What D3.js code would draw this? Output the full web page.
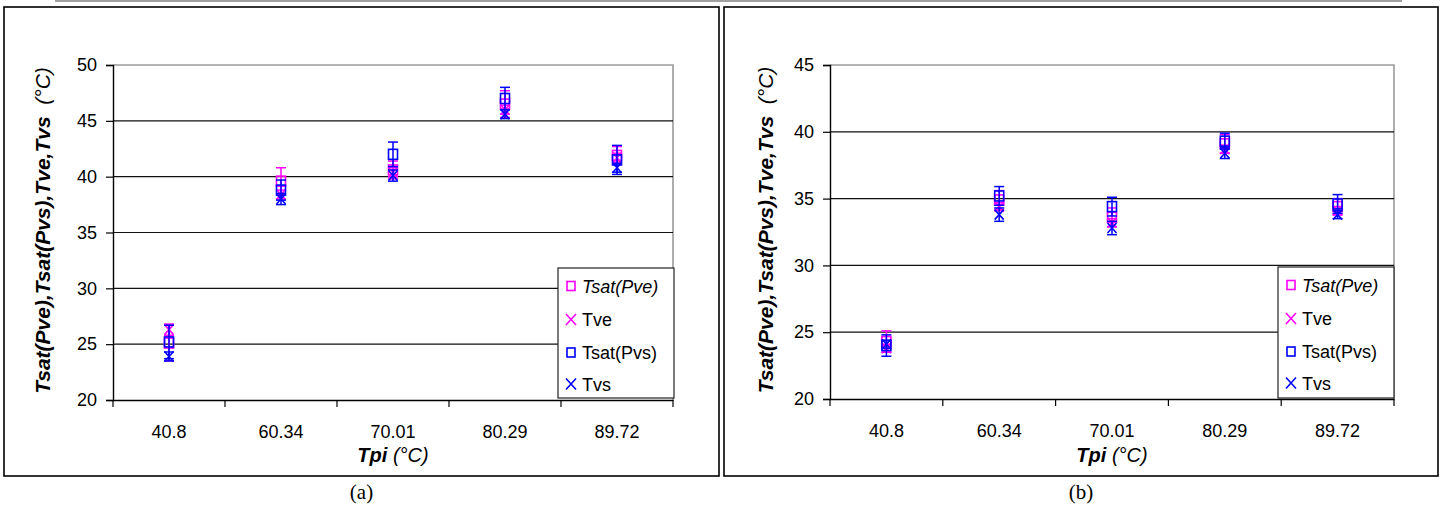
<!DOCTYPE html>
<html>
<head>
<meta charset="utf-8">
<script src="https://cdn.jsdelivr.net/npm/d3@7"></script>
<style>
  html, body { margin: 0; padding: 0; background: #fff; }
  svg { display: block; }
  text { fill: #000; }
</style>
</head>
<body>
<svg id="chart" width="1442" height="508"></svg>
<script>
// ---------------- DATA ----------------
const categories = ["40.8", "60.34", "70.01", "80.29", "89.72"];
const seriesNames = ["Tsat(Pve)", "Tve", "Tsat(Pvs)", "Tvs"];

const yTicksA = [20, 25, 30, 35, 40, 45, 50];
const yTicksB = [20, 25, 30, 35, 40, 45];

// Panel (a)
const a_TsatPve = [25.1, 39.6, 40.6, 46.5, 41.9];
const a_Tve     = [26.3, 38.4, 40.4, 46.0, 41.7];
const a_TsatPvs = [25.2, 38.8, 42.0, 47.0, 41.5];
const a_Tvs     = [23.9, 38.0, 40.1, 45.6, 40.8];
const a_TsatPve_err = [1.6, 1.2, 0.8, 1.2, 0.8];
const a_Tve_err     = [0.5, 0.4, 0.4, 0.4, 0.4];
const a_TsatPvs_err = [1.5, 0.9, 1.1, 1.0, 1.3];
const a_Tvs_err     = [0.4, 0.5, 0.5, 0.4, 0.4];

// Panel (b)
const b_TsatPve = [24.3, 34.9, 33.6, 39.1, 34.4];
const b_Tve     = [23.8, 34.4, 33.2, 38.7, 34.1];
const b_TsatPvs = [24.0, 35.2, 34.4, 39.3, 34.6];
const b_Tvs     = [24.1, 33.8, 32.8, 38.4, 33.8];
const b_TsatPve_err = [0.8, 0.7, 0.7, 0.7, 0.6];
const b_Tve_err     = [0.3, 0.3, 0.3, 0.3, 0.3];
const b_TsatPvs_err = [0.8, 0.7, 0.7, 0.6, 0.7];
const b_Tvs_err     = [0.3, 0.5, 0.5, 0.4, 0.3];

// ---------------- STYLE / LAYOUT ----------------
const SANS = "'Liberation Sans', Arial, sans-serif";
const SERIF = "'Liberation Serif', 'Times New Roman', serif";
const MAGENTA = "#ff00ff", BLUE = "#0000ff";
const seriesStyle = [
  { name: seriesNames[0], color: MAGENTA, shape: "square", italic: true },
  { name: seriesNames[1], color: MAGENTA, shape: "x", italic: false },
  { name: seriesNames[2], color: BLUE, shape: "square", italic: false },
  { name: seriesNames[3], color: BLUE, shape: "x", italic: false }
];

const panels = [
  {
    frame: { x: 4, y: 7, w: 715, h: 469 },
    plot: { x0: 113, x1: 673, y0: 65, y1: 400 },
    yDomain: [20, 50], yTicks: yTicksA,
    ytitleX: 43, caption: "(a)",
    legend: { x: 558, y: 268, w: 116, h: 130 },
    values: [a_TsatPve, a_Tve, a_TsatPvs, a_Tvs],
    errors: [a_TsatPve_err, a_Tve_err, a_TsatPvs_err, a_Tvs_err]
  },
  {
    frame: { x: 724, y: 7, w: 714, h: 469 },
    plot: { x0: 830, x1: 1394, y0: 65, y1: 399 },
    yDomain: [20, 45], yTicks: yTicksB,
    ytitleX: 766, caption: "(b)",
    legend: { x: 1278, y: 267, w: 116, h: 131 },
    values: [b_TsatPve, b_Tve, b_TsatPvs, b_Tvs],
    errors: [b_TsatPve_err, b_Tve_err, b_TsatPvs_err, b_Tvs_err]
  }
];

const svg = d3.select("#chart");

// top grey rule
svg.append("line").attr("x1", 55).attr("x2", 1402).attr("y1", 1).attr("y2", 1)
  .attr("stroke", "#a0a0a0").attr("stroke-width", 2);

function drawMarker(g, shape, color, cx, cy, w, h) {
  if (shape === "square") {
    g.append("rect").attr("x", cx - w / 2).attr("y", cy - h / 2)
      .attr("width", w).attr("height", h)
      .attr("fill", "none").attr("stroke", color).attr("stroke-width", 1.6);
  } else {
    const hw = w / 2, hh = h / 2;
    g.append("path")
      .attr("d", `M${cx - hw},${cy - hh}L${cx + hw},${cy + hh}M${cx - hw},${cy + hh}L${cx + hw},${cy - hh}`)
      .attr("fill", "none").attr("stroke", color).attr("stroke-width", 1.6);
  }
}

panels.forEach(p => {
  const g = svg.append("g");
  const f = p.frame;
  // panel frame
  g.append("rect").attr("x", f.x).attr("y", f.y).attr("width", f.w).attr("height", f.h)
    .attr("fill", "none").attr("stroke", "#000").attr("stroke-width", 1.6);

  const x = d3.scaleBand().domain(categories).range([p.plot.x0, p.plot.x1]).padding(0);
  const y = d3.scaleLinear().domain(p.yDomain).range([p.plot.y1, p.plot.y0]);

  // plot area border (top + right, grey)
  g.append("path")
    .attr("d", `M${p.plot.x0},${y(p.yDomain[1])}L${p.plot.x1},${y(p.yDomain[1])}L${p.plot.x1},${y(p.yDomain[0])}`)
    .attr("fill", "none").attr("stroke", "#9a9a9a").attr("stroke-width", 1.6);

  // gridlines
  g.append("g").selectAll("line")
    .data(p.yTicks.filter(t => t > p.yDomain[0] && t < p.yDomain[1]))
    .join("line")
    .attr("x1", p.plot.x0).attr("x2", p.plot.x1)
    .attr("y1", d => y(d)).attr("y2", d => y(d))
    .attr("stroke", "#111").attr("stroke-width", 1.2);

  // y axis
  const yAxis = d3.axisLeft(y).tickValues(p.yTicks).tickSize(7).tickPadding(9)
    .tickFormat(d3.format("d"));
  const yg = g.append("g").attr("transform", `translate(${p.plot.x0},0)`).call(yAxis);
  yg.select(".domain").attr("stroke", "#000").attr("stroke-width", 1.4);
  yg.selectAll(".tick line").attr("stroke", "#000").attr("stroke-width", 1.2);
  yg.selectAll(".tick text").attr("font-size", 18).style("font-family", SANS)
    .attr("fill", "#000");

  // x axis (labels at band centres)
  const xAxis = d3.axisBottom(x).tickSize(0).tickPadding(0);
  const xg = g.append("g").attr("transform", `translate(0,${p.plot.y1})`).call(xAxis);
  xg.select(".domain").attr("stroke", "#000").attr("stroke-width", 1.4);
  xg.selectAll(".tick text").attr("font-size", 18).style("font-family", SANS)
    .attr("fill", "#000").attr("dy", null).attr("y", 38);
  // tick marks at category boundaries
  const edges = categories.map(c => x(c)).concat([p.plot.x1]);
  g.append("g").selectAll("line").data(edges).join("line")
    .attr("x1", d => d).attr("x2", d => d)
    .attr("y1", p.plot.y1).attr("y2", p.plot.y1 + 7)
    .attr("stroke", "#000").attr("stroke-width", 1.2);

  // x title
  const xt = g.append("text")
    .attr("x", (p.plot.x0 + p.plot.x1) / 2).attr("y", 462)
    .attr("text-anchor", "middle").attr("font-size", 20).style("font-family", SANS);
  xt.append("tspan").attr("font-weight", "bold").attr("font-style", "italic").text("Tpi");
  xt.append("tspan").attr("font-style", "italic").text("\u00a0(°C)");

  // y title
  const yt = g.append("text")
    .attr("transform", `translate(${p.ytitleX + 7},${(p.plot.y0 + p.plot.y1) / 2 - 2}) rotate(-90)`)
    .attr("text-anchor", "middle").attr("font-size", 21).style("font-family", SANS);
  yt.append("tspan").attr("font-weight", "bold").attr("font-style", "italic").text("Tsat(Pve),Tsat(Pvs),Tve,Tvs");
  yt.append("tspan").attr("font-style", "italic").text("\u00a0\u00a0(°C)");

  // caption
  g.append("text").attr("x", f.x + f.w / 2).attr("y", 499).attr("text-anchor", "middle")
    .style("font-family", SERIF).attr("font-size", 21)
    .text(p.caption);

  // data: error bars + markers
  const cap = 5;
  seriesStyle.forEach((s, si) => {
    const sg = g.append("g");
    const vals = p.values[si], errs = p.errors[si];
    categories.forEach((c, ci) => {
      const cx = x(c) + x.bandwidth() / 2;
      const v = vals[ci], e = errs[ci];
      const yt0 = y(v + e), yb0 = y(v - e);
      sg.append("line").attr("x1", cx).attr("x2", cx).attr("y1", yt0).attr("y2", yb0)
        .attr("stroke", s.color).attr("stroke-width", 1.5);
      sg.append("line").attr("x1", cx - cap).attr("x2", cx + cap).attr("y1", yt0).attr("y2", yt0)
        .attr("stroke", s.color).attr("stroke-width", 1.5);
      sg.append("line").attr("x1", cx - cap).attr("x2", cx + cap).attr("y1", yb0).attr("y2", yb0)
        .attr("stroke", s.color).attr("stroke-width", 1.5);
      drawMarker(sg, s.shape, s.color, cx, y(v), 9, 10);
    });
  });

  // legend
  const L = p.legend;
  const lg = g.append("g");
  lg.append("rect").attr("x", L.x).attr("y", L.y).attr("width", L.w).attr("height", L.h)
    .attr("fill", "#fff").attr("stroke", "#222").attr("stroke-width", 1.2);
  const rowY = [18, 51.5, 84.5, 116];
  seriesStyle.forEach((s, si) => {
    const cy = L.y + rowY[si];
    drawMarker(lg, s.shape, s.color, L.x + 13, cy, s.shape === "square" ? 8 : 10, s.shape === "square" ? 9 : 11);
    lg.append("text").attr("x", L.x + 24).attr("y", cy + 6.5)
      .attr("font-size", 18).style("font-family", SANS)
      .attr("font-style", s.italic ? "italic" : "normal")
      .text(s.name);
  });
});
</script>
</body>
</html>
